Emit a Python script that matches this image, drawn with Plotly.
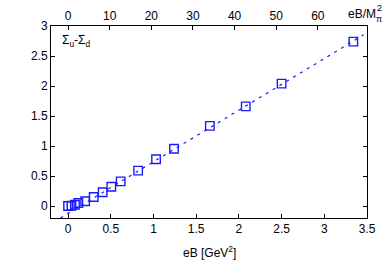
import plotly.graph_objects as go

# data
eB = [0.0, 0.04, 0.08, 0.12, 0.2, 0.3, 0.405, 0.506, 0.616, 0.82, 1.03, 1.24, 1.66, 2.08, 2.5, 3.34]
sigma_diff = [0.0, 0.005, 0.02, 0.05, 0.08, 0.15, 0.23, 0.32, 0.41, 0.59, 0.78, 0.955, 1.335, 1.66, 2.04, 2.74]

# linear fit line (dashed)
fit_slope = 0.86
fit_intercept = -0.123
fit_x = [-0.09, 3.46]
fit_y = [fit_slope * v + fit_intercept for v in fit_x]

x_ticks = [0, 0.5, 1, 1.5, 2, 2.5, 3, 3.5]
y_ticks = [0, 0.5, 1, 1.5, 2, 2.5, 3]
top_ticks = [0, 10, 20, 30, 40, 50, 60]

blue = "#1a1aff"
font = "Liberation Sans, Arial, sans-serif"
fs = 12

fig = go.Figure()
fig.add_trace(go.Scatter(x=fit_x, y=fit_y, mode="lines",
                         line=dict(color=blue, width=1.2, dash="3px,5px"),
                         showlegend=False, hoverinfo="skip"))
fig.add_trace(go.Scatter(x=eB, y=sigma_diff, mode="markers",
                         marker=dict(symbol="square-open", size=8.5, color=blue,
                                     line=dict(width=1.4, color=blue)),
                         showlegend=False))
# invisible trace to activate top axis
fig.add_trace(go.Scatter(x=[0], y=[0], xaxis="x2", mode="markers",
                         marker=dict(opacity=0), showlegend=False, hoverinfo="skip"))

axis_common = dict(showgrid=False, zeroline=False, showline=True, linecolor="black",
                   linewidth=1, ticks="inside", ticklen=4, tickcolor="black",
                   automargin=False,
                   tickfont=dict(family=font, size=fs, color="black"))

pw = 390 - 51 - 23  # plot width in px
ph = 273 - 26 - 55  # plot height in px

fig.update_layout(
    width=390, height=273,
    margin=dict(l=51, r=23, t=26, b=55),
    plot_bgcolor="white", paper_bgcolor="white",
    font=dict(family=font, size=fs, color="black"),
    xaxis=dict(range=[-0.2, 3.5], tickvals=x_ticks, mirror=False, **axis_common),
    xaxis2=dict(range=[-4.1, 71.8], tickvals=top_ticks, overlaying="x", side="top",
                anchor="y", **axis_common),
    yaxis=dict(range=[-0.2, 3.0], tickvals=y_ticks, mirror="ticks", **axis_common),
    annotations=[
        dict(text="eB [GeV<sup>2</sup>]", x=0.5, y=-(252 - 218) / ph, xref="paper", yref="paper",
             xanchor="center", yanchor="middle", showarrow=False,
             font=dict(family=font, size=fs, color="black")),
        dict(text="Σ<sub>u</sub>-Σ<sub>d</sub>", x=0.028, y=0.975, xref="paper", yref="paper",
             xanchor="left", yanchor="top", showarrow=False,
             font=dict(family=font, size=fs, color="black")),
        dict(text="eB/M", x=(346 - 51) / pw, y=1.0, xref="paper", yref="paper",
             xanchor="left", yanchor="bottom", yshift=3, showarrow=False,
             font=dict(family=font, size=fs, color="black")),
        dict(text="2", x=(375 - 51) / pw, y=1.0, xref="paper", yref="paper",
             xanchor="left", yanchor="bottom", yshift=11, showarrow=False,
             font=dict(family=font, size=9, color="black")),
        dict(text="π", x=(374.5 - 51) / pw, y=1.0, xref="paper", yref="paper",
             xanchor="left", yanchor="bottom", yshift=0, showarrow=False,
             font=dict(family=font, size=9, color="black")),
    ],
)

fig.write_html("out.html", config={"displayModeBar": False},
               post_script="document.body.style.margin='0';")
